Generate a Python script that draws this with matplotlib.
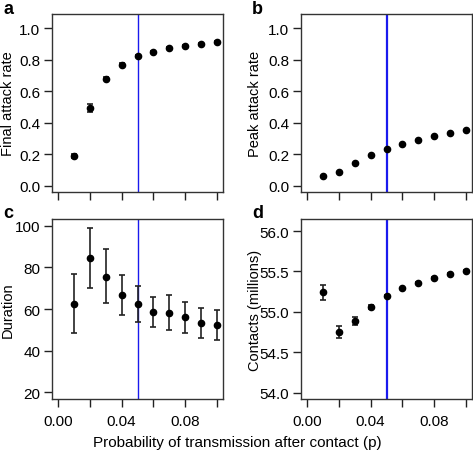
import numpy as np
import matplotlib
matplotlib.use("Agg")
import matplotlib.pyplot as plt

plt.rcParams["font.family"] = ["Liberation Sans", "DejaVu Sans"]

# probabilidad de transmision tras contacto
p = [0.01, 0.02, 0.03, 0.04, 0.05, 0.06, 0.07, 0.08, 0.09, 0.10]
p_ref = 0.05

final_attack = [0.189, 0.495, 0.680, 0.768, 0.821, 0.851, 0.876, 0.888, 0.901, 0.914]
final_lo = [0.175, 0.470, 0.668, 0.760, 0.815, 0.846, 0.871, 0.883, 0.896, 0.909]
final_hi = [0.203, 0.520, 0.692, 0.776, 0.827, 0.856, 0.881, 0.893, 0.906, 0.919]

peak_attack = [0.063, 0.090, 0.145, 0.194, 0.234, 0.265, 0.290, 0.314, 0.333, 0.354]

duration = [62.6, 84.5, 75.5, 66.9, 62.4, 58.6, 58.2, 56.0, 53.3, 52.5]
duration_lo = [48.3, 70.2, 62.7, 57.1, 53.8, 51.2, 49.8, 48.5, 46.2, 45.3]
duration_hi = [76.8, 98.9, 88.8, 76.6, 71.0, 65.9, 66.7, 63.4, 60.5, 59.5]

contacts = [55.24, 54.745, 54.885, 55.06, 55.20, 55.29, 55.36, 55.42, 55.47, 55.51]
contacts_lo = [55.15, 54.67, 54.84, 55.04, 55.19, 55.28, 55.35, 55.41, 55.46, 55.50]
contacts_hi = [55.33, 54.82, 54.93, 55.08, 55.21, 55.30, 55.37, 55.43, 55.48, 55.52]

xticks = [0.00, 0.02, 0.04, 0.06, 0.08, 0.10]
xtick_labels = ["0.00", "", "0.04", "", "0.08", ""]   # R omite las que se solapan

fig = plt.figure(figsize=(4.73, 4.60), dpi=100)
W, H = 473, 460


def panel(left, top, right, bottom):
    return fig.add_axes([left / W, 1 - bottom / H, (right - left) / W, (bottom - top) / H])


def style(ax, yticks, ylim, ylabel, fmt, show_x, vlw, lab_x):
    ax.axvline(p_ref, color="#1a1aee", lw=vlw, zorder=1)
    ax.set_xlim(-0.004, 0.104)
    ax.set_ylim(*ylim)
    ax.set_xticks(xticks)
    ax.set_yticks(yticks)
    ax.set_yticklabels([fmt.format(v) for v in yticks])
    ax.set_xticklabels(xtick_labels if show_x else [])
    ax.tick_params(direction="out", length=5.5, width=1, labelsize=11, color="#222222", pad=3)
    ax.tick_params(axis="x", pad=5)
    for s in ax.spines.values():
        s.set_color("#333333")
        s.set_linewidth(1.0)
    ax.set_ylabel(ylabel, fontsize=10.5)
    ax.yaxis.set_label_coords(lab_x, 0.5)


def draw(ax, y, lo=None, hi=None):
    if lo is not None:
        y = np.asarray(y)
        err = [y - np.asarray(lo), np.asarray(hi) - y]
        ax.errorbar(p, y, yerr=err, fmt="o", color="black", ms=4.5,
                    ecolor="#222222", elinewidth=1.2, capsize=2.2, capthick=1.2, zorder=3)
    else:
        ax.plot(p, y, "o", color="black", ms=4.5, zorder=3)


ax_a = panel(52, 15, 223, 193)
draw(ax_a, final_attack, final_lo, final_hi)
style(ax_a, [0.0, 0.2, 0.4, 0.6, 0.8, 1.0], (-0.04, 1.09), "Final attack rate", "{:.1f}",
      False, 1.0, -0.215)

ax_b = panel(301, 15, 472, 193)
draw(ax_b, peak_attack)
style(ax_b, [0.0, 0.2, 0.4, 0.6, 0.8, 1.0], (-0.04, 1.09), "Peak attack rate", "{:.1f}",
      False, 1.6, -0.228)

ax_c = panel(52, 220, 223, 400)
draw(ax_c, duration, duration_lo, duration_hi)
style(ax_c, [20, 40, 60, 80, 100], (16.8, 103.3), "Duration", "{:.0f}",
      True, 1.0, -0.215)

ax_d = panel(301, 220, 472, 400)
draw(ax_d, contacts, contacts_lo, contacts_hi)
style(ax_d, [54.0, 54.5, 55.0, 55.5, 56.0], (53.92, 56.15), "Contacts (millions)", "{:.1f}",
      True, 1.6, -0.228)

for ax, lab in [(ax_a, "a"), (ax_b, "b"), (ax_c, "c"), (ax_d, "d")]:
    bb = ax.get_position()
    fig.text(bb.x0 - 49 / W, bb.y1 + 6 / H, lab, fontsize=13, fontweight="bold",
             ha="left", va="center")

fig.text(237 / W, 1 - 443 / H, "Probability of transmission after contact (p)",
         fontsize=11, ha="center", va="center")

fig.savefig("out.png", dpi=100)
